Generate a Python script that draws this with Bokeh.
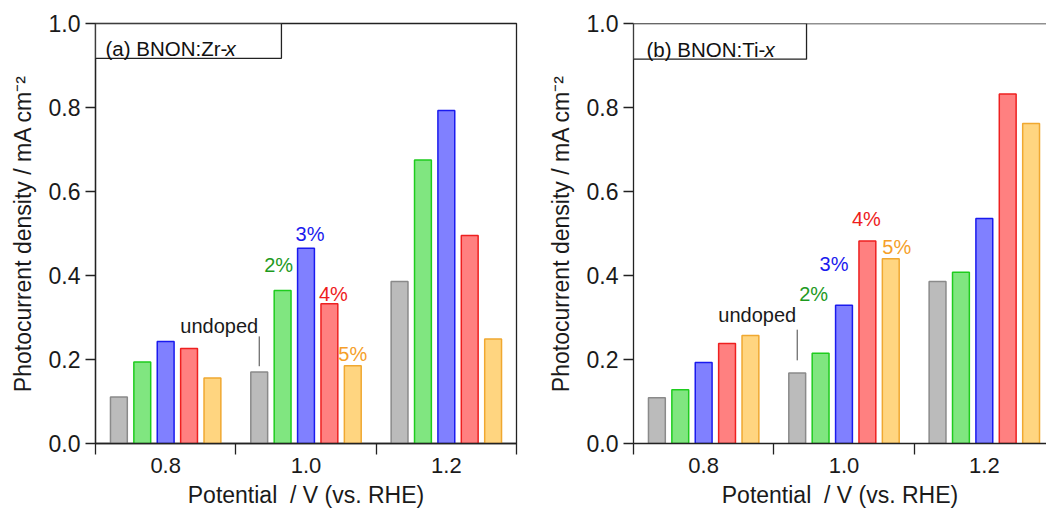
from bokeh.plotting import figure
from bokeh.layouts import row
from bokeh.models import (ColumnDataSource, FixedTicker, PrintfTickFormatter,
                          BoxAnnotation, Label, Span, Range1d)
from bokeh.embed import file_html
from bokeh.resources import INLINE

# ---------------- data ----------------
potentials = ["0.8", "1.0", "1.2"]
dopings = ["undoped", "2%", "3%", "4%", "5%"]

zr_undoped = [0.111, 0.170, 0.386]
zr_2 = [0.194, 0.364, 0.675]
zr_3 = [0.243, 0.465, 0.793]
zr_4 = [0.226, 0.333, 0.495]
zr_5 = [0.156, 0.185, 0.249]

ti_undoped = [0.109, 0.168, 0.386]
ti_2 = [0.128, 0.215, 0.408]
ti_3 = [0.193, 0.329, 0.536]
ti_4 = [0.238, 0.482, 0.832]
ti_5 = [0.257, 0.440, 0.762]

y_ticks = [0.0, 0.2, 0.4, 0.6, 0.8, 1.0]

x_title = "Potential \u00a0/ V (vs. RHE)"
y_title = "Photocurrent density / mA cm\u207b\u00b2"

# ---------------- styles ----------------
FONT = "Liberation Sans"
fills = ["#bbbbbb", "#80e680", "#8080ff", "#ff8080", "#ffd580"]
edges = ["#8a8a8a", "#1ecc1e", "#1a1aee", "#ee2020", "#f0a830"]
text_colors = ["#1a1a1a", "#1e9a1e", "#1a1aee", "#ee1c1c", "#f5a02a"]
AX = "#222222"
BAR_W = 0.12
STEP = 1.0 / 6.0

# label placement (annotation layout): (y baseline, x pixel offset)
zr_label_pos = {"2%": (0.425, -4), "3%": (0.500, 4), "4%": (0.356, 4), "5%": (0.214, 0)}
ti_label_pos = {"2%": (0.356, -7), "3%": (0.428, -10), "4%": (0.534, -1), "5%": (0.467, 6)}


def make_panel(series, title_main, x_end, width, min_left, min_right, full_box,
               box_right, box_bottom, title_dx, title_dy, italic_dx,
               label_pos, undoped_y, undoped_line):
    p = figure(width=width, height=510, x_range=Range1d(0.5, x_end), y_range=Range1d(0, 1.0),
               output_backend="svg", toolbar_location=None,
               min_border_left=min_left, min_border_right=min_right,
               min_border_top=23, min_border_bottom=66)
    p.grid.visible = False
    p.background_fill_color = "white"
    p.border_fill_color = "white"
    if full_box:
        p.outline_line_color = AX
        p.outline_line_width = 1.3
    else:
        p.outline_line_color = None
        p.add_layout(Span(location=1.0, dimension="width", line_color=AX, line_width=1.3))

    # bars
    for j, vals in enumerate(series):
        xs = [i + 1 + (j - 2) * STEP for i in range(len(potentials))]
        src = ColumnDataSource(dict(x=xs, top=vals, pot=potentials))
        p.vbar(x="x", top="top", bottom=0, width=BAR_W, source=src,
               fill_color=fills[j], line_color=edges[j], line_width=1.5)

    # axes
    xa = p.xaxis[0]
    xa.ticker = FixedTicker(ticks=[i + 1 for i in range(len(potentials))],
                            minor_ticks=[i + 0.5 for i in range(len(potentials) + 1)])
    xa.major_label_overrides = {i + 1: lab for i, lab in enumerate(potentials)}
    xa.major_tick_out = 0
    xa.major_tick_in = 0
    xa.minor_tick_out = 11
    xa.minor_tick_in = 0
    xa.minor_tick_line_color = AX
    xa.minor_tick_line_width = 1.3
    xa.axis_line_color = AX
    xa.axis_line_width = 1.3
    xa.major_label_text_font = FONT
    xa.major_label_text_font_size = "22px"
    xa.major_label_text_color = "#1a1a1a"
    xa.major_label_standoff = 3
    xa.axis_label = x_title
    xa.axis_label_text_font = FONT
    xa.axis_label_text_font_size = "23px"
    xa.axis_label_text_font_style = "normal"
    xa.axis_label_text_color = "#1a1a1a"
    xa.axis_label_standoff = 6

    ya = p.yaxis[0]
    ya.ticker = FixedTicker(ticks=y_ticks, minor_ticks=[])
    ya.formatter = PrintfTickFormatter(format="%.1f")
    ya.major_tick_out = 10
    ya.major_tick_in = 0
    ya.major_tick_line_color = AX
    ya.major_tick_line_width = 1.3
    ya.minor_tick_out = 0
    ya.minor_tick_in = 0
    ya.axis_line_color = AX
    ya.axis_line_width = 1.3
    ya.major_label_text_font = FONT
    ya.major_label_text_font_size = "23px"
    ya.major_label_text_color = "#1a1a1a"
    ya.major_label_standoff = 5
    ya.axis_label = y_title
    ya.axis_label_text_font = FONT
    ya.axis_label_text_font_size = "23px"
    ya.axis_label_text_font_style = "normal"
    ya.axis_label_text_color = "#1a1a1a"
    ya.axis_label_standoff = 10

    # title box
    p.add_layout(BoxAnnotation(left=0.5, right=box_right, bottom=box_bottom, top=1.0,
                               fill_color="white", fill_alpha=1.0,
                               line_color=AX, line_alpha=1.0, line_width=1.3))
    p.add_layout(Label(x=0.5, y=1.0, x_offset=title_dx, y_offset=title_dy,
                       text=title_main, text_font=FONT,
                       text_font_size="20.5px", text_color="#111111",
                       text_baseline="alphabetic", text_align="left"))
    p.add_layout(Label(x=0.5, y=1.0, x_offset=title_dx + italic_dx, y_offset=title_dy,
                       text="x", text_font=FONT, text_font_style="italic",
                       text_font_size="20.5px", text_color="#111111",
                       text_baseline="alphabetic", text_align="left"))

    # doping labels at 1.0 V group
    gi = 1
    for j, name in enumerate(dopings):
        bx = gi + 1 + (j - 2) * STEP
        if j == 0:
            p.add_layout(Label(x=bx, y=undoped_y, x_offset=-1, text=name, text_font=FONT,
                               text_font_size="20px", text_color=text_colors[0],
                               text_align="right", text_baseline="alphabetic"))
            p.segment(x0=[bx], y0=[undoped_line[0]], x1=[bx], y1=[undoped_line[1]],
                      line_color="#444444", line_width=1.0)
        else:
            yb, dx = label_pos[name]
            p.add_layout(Label(x=bx, y=yb, x_offset=dx, text=name, text_font=FONT,
                               text_font_size="20px", text_color=text_colors[j],
                               text_align="center", text_baseline="alphabetic"))
    return p


p1 = make_panel([zr_undoped, zr_2, zr_3, zr_4, zr_5], "(a) BNON:Zr-", 3.5, 540, 95, 24, True,
                1.825, 0.917, 10, -25, 120, zr_label_pos, 0.279, (0.184, 0.255))
p2 = make_panel([ti_undoped, ti_2, ti_3, ti_4, ti_5], "(b) BNON:Ti-", 0.5 + 413 / 140.33, 506, 93, 0,
                False, 1.733, 0.915, 13, -26, 118, ti_label_pos, 0.306, (0.198, 0.271))

layout = row(p1, p2)
open("out.html", "w").write(file_html(layout, INLINE))
